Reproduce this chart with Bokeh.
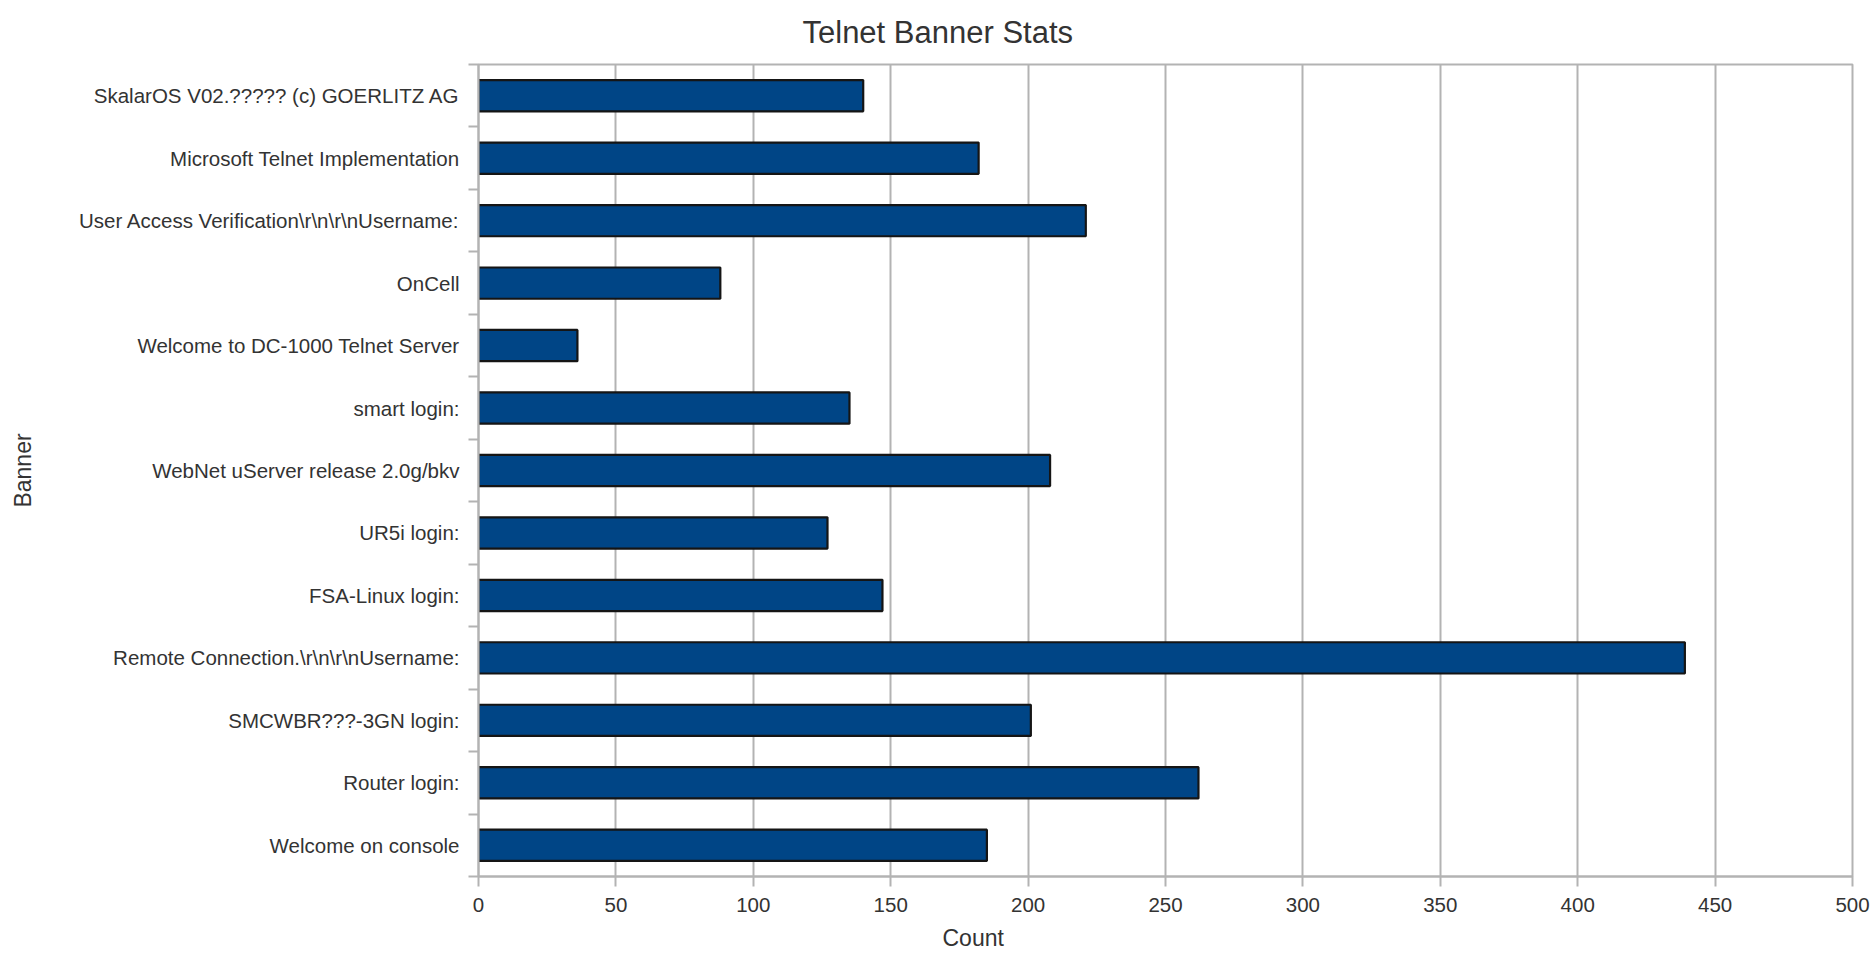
from bokeh.plotting import figure
from bokeh.models import FixedTicker, Range1d, ColumnDataSource, Title
from bokeh.embed import file_html
from bokeh.resources import INLINE

# Data (bottom to top)
banners = [
    "Welcome on console",
    "Router login:",
    "SMCWBR???-3GN login:",
    "Remote Connection.\\r\\n\\r\\nUsername:",
    "FSA-Linux login:",
    "UR5i login:",
    "WebNet uServer release 2.0g/bkv",
    "smart login:",
    "Welcome to DC-1000 Telnet Server",
    "OnCell",
    "User Access Verification\\r\\n\\r\\nUsername:",
    "Microsoft Telnet Implementation",
    "SkalarOS V02.????? (c) GOERLITZ AG",
]
counts = [185, 262, 201, 439, 147, 127, 208, 135, 36, 88, 221, 182, 140]
x_ticks = [0, 50, 100, 150, 200, 250, 300, 350, 400, 450, 500]

title_text = "Telnet Banner Stats"
x_title = "Count"
y_title = "Banner"

FONT = "Liberation Sans"
GRID = "#b3b3b3"
TEXT = "#333333"

n = len(banners)
centers = [i + 0.5 for i in range(n)]
bounds = list(range(n + 1))

src = ColumnDataSource(dict(y=centers, right=counts, name=banners))

p = figure(
    width=1870, height=960,
    x_range=Range1d(x_ticks[0], x_ticks[-1]),
    y_range=Range1d(0, n),
    output_backend="svg", toolbar_location=None,
    min_border_left=478, min_border_right=18,
    min_border_top=64, min_border_bottom=84,
)
p.title.text = ""
p.background_fill_color = "white"
p.border_fill_color = "white"
p.outline_line_color = GRID
p.outline_line_width = 2

p.hbar(y="y", right="right", left=0, height=0.5, source=src,
       fill_color="#004586", line_color="#151515", line_width=2.2)

# x axis
xa = p.below[0]
xa.ticker = FixedTicker(ticks=x_ticks)
xa.axis_line_color = GRID
xa.axis_line_width = 2
xa.major_tick_line_color = GRID
xa.major_tick_line_width = 2
xa.major_tick_out = 10
xa.major_tick_in = 0
xa.minor_tick_line_color = None
xa.minor_tick_out = 0
xa.major_label_standoff = 11
xa.major_label_text_font = FONT
xa.major_label_text_font_size = "20.5px"
xa.major_label_text_color = TEXT

# y axis
ya = p.left[0]
ya.ticker = FixedTicker(ticks=centers, minor_ticks=bounds)
ya.major_label_overrides = {c: b for c, b in zip(centers, banners)}
ya.axis_line_color = GRID
ya.axis_line_width = 2
ya.major_tick_line_color = None
ya.major_tick_out = 0
ya.major_tick_in = 0
ya.minor_tick_line_color = GRID
ya.minor_tick_line_width = 2
ya.minor_tick_out = 10
ya.minor_tick_in = 0
ya.major_label_standoff = 9
ya.major_label_text_font = FONT
ya.major_label_text_font_size = "20.5px"
ya.major_label_text_color = TEXT
ya.axis_label = y_title
ya.axis_label_standoff = 40
ya.axis_label_text_font = FONT
ya.axis_label_text_font_size = "23px"
ya.axis_label_text_font_style = "normal"
ya.axis_label_text_color = TEXT

p.xgrid.ticker = FixedTicker(ticks=x_ticks)
p.xgrid.grid_line_color = GRID
p.xgrid.grid_line_width = 2
p.ygrid.grid_line_color = None

# chart title above the frame, over the middle of the page
p.add_layout(Title(text=title_text, align="left", offset=324, vertical_align="top",
                   standoff=26, text_font=FONT, text_font_size="31px",
                   text_font_style="normal", text_color=TEXT), "above")

# x axis title below the axis
p.add_layout(Title(text=x_title, align="left", offset=464, vertical_align="bottom",
                   standoff=16, text_font=FONT, text_font_size="23px",
                   text_font_style="normal", text_color=TEXT), "below")

open("out.html", "w").write(file_html(p, INLINE))
